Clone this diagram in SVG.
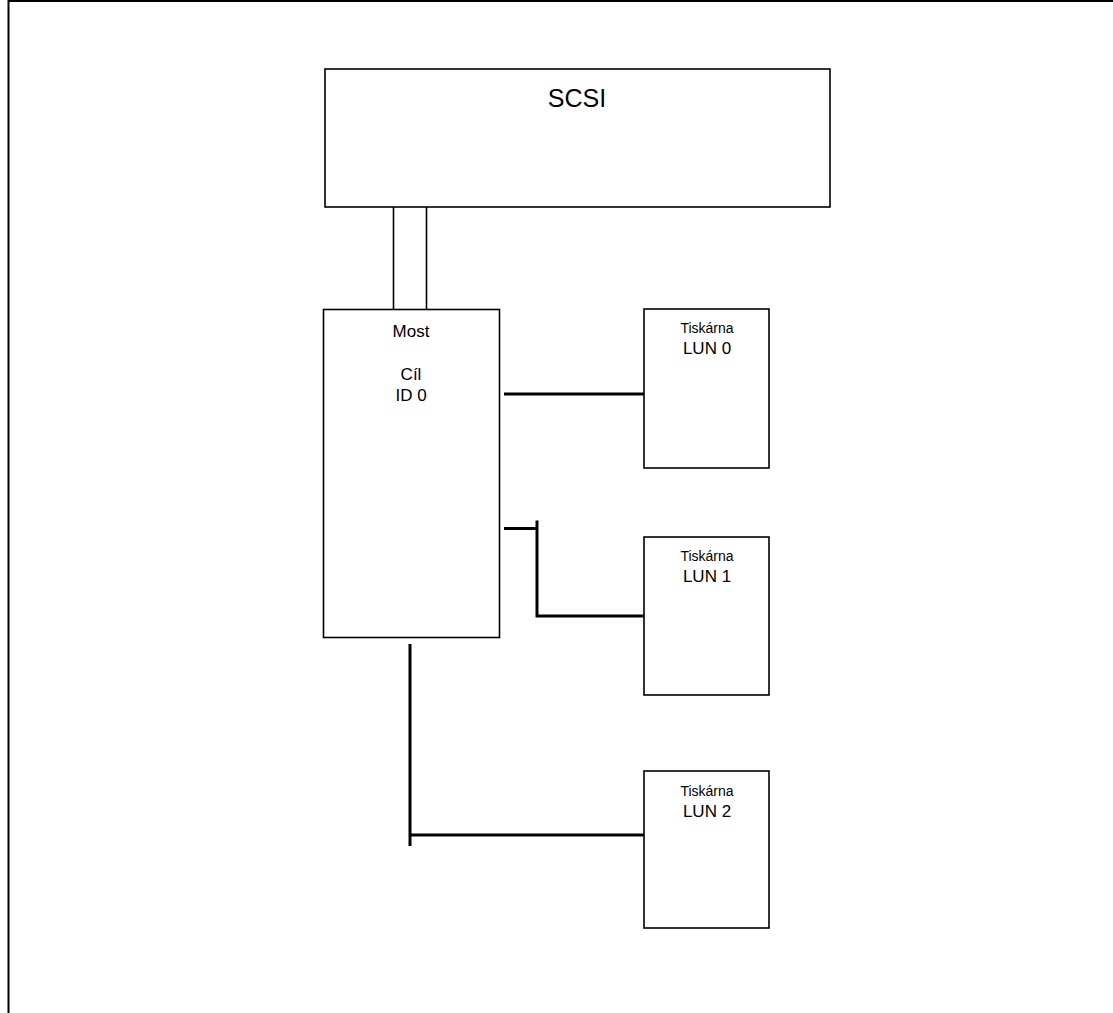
<svg xmlns="http://www.w3.org/2000/svg" width="1113" height="1013" viewBox="0 0 1113 1013">
<style>
.box{fill:#fff;stroke:#000;stroke-width:1.6}
.bus{fill:none;stroke:#000;stroke-width:1.6}
.wire{fill:none;stroke:#000;stroke-width:3}
text{font-family:"Liberation Sans",Arial,sans-serif;fill:#000;text-anchor:middle}
.big{font-size:25px}
.mid{font-size:17px}
.sm{font-size:14px}
</style>
<rect width="1113" height="1013" fill="#fff"/>
<path d="M8.5 1013 V1 H1113" fill="none" stroke="#000" stroke-width="2"/>
<g id="connectors">
<line class="bus" x1="393.5" y1="207" x2="393.5" y2="309"/>
<line class="bus" x1="426.5" y1="207" x2="426.5" y2="309"/>
<line class="wire" x1="504" y1="394" x2="644" y2="394"/>
<path class="wire" d="M504 528.5 H537 M537 520.5 V616 H646"/>
<path class="wire" d="M410 644 V846 M410 835 H644"/>
</g>
<g id="scsi">
<rect class="box" x="325" y="69" width="505" height="138"/>
<text class="big" x="577" y="107">SCSI</text>
</g>
<g id="most">
<rect class="box" x="323.5" y="309.5" width="176" height="328"/>
<text class="mid" x="411" y="337">Most</text>
<text class="mid" x="411" y="380">Cíl</text>
<text class="mid" x="411" y="401">ID 0</text>
</g>
<g id="lun0">
<rect class="box" x="644" y="309" width="125" height="159"/>
<text class="sm" x="707" y="333">Tiskárna</text>
<text class="mid" x="707" y="354">LUN 0</text>
</g>
<g id="lun1">
<rect class="box" x="644" y="537" width="125" height="158"/>
<text class="sm" x="707" y="561">Tiskárna</text>
<text class="mid" x="707" y="582">LUN 1</text>
</g>
<g id="lun2">
<rect class="box" x="644" y="771" width="125" height="157"/>
<text class="sm" x="707" y="796">Tiskárna</text>
<text class="mid" x="707" y="817">LUN 2</text>
</g>
</svg>
